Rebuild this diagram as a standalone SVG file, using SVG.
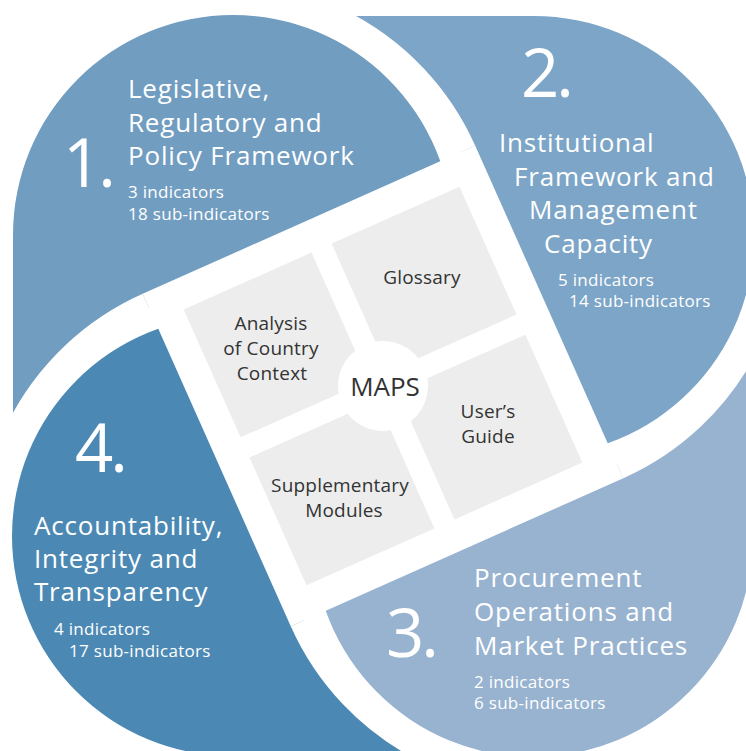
<svg xmlns="http://www.w3.org/2000/svg" xmlns:xlink="http://www.w3.org/1999/xlink" width="746" height="751" viewBox="0 0 746 751">
  <style>
    text { font-family: "Open Sans", "Noto Sans", "Liberation Sans", sans-serif; }
    .num { fill: #ffffff; font-size: 67px; letter-spacing: -3px; }
    .title { fill: #ffffff; font-size: 26px; letter-spacing: 0.8px; }
    .sub { fill: #ffffff; font-size: 17px; letter-spacing: 0.3px; }
    .tile { fill: #ecedec; }
    .tl { fill: #333333; font-size: 19px; letter-spacing: 0.2px; text-anchor: middle; }
    .hub-label { fill: #333333; font-size: 26px; text-anchor: middle; }
    .arm { fill: none; stroke: #ffffff; stroke-width: 30; }
    .p1 { fill: #719dc1; }
    .p2 { fill: #7ca5c7; }
    .p3 { fill: #98b3d0; }
    .p4 { fill: #4b89b4; }
  </style>
  <defs>
    <!-- outer edge of one pillar: straight side plus a 220 radius corner, in hub-centred coordinates -->
    <clipPath id="pillar-edge">
      <path d="M-370,900 L-370,-151 A220,220 0 0 1 -150,-371 A220,220 0 0 1 70,-151 L900,-151 L900,900 Z"/>
    </clipPath>
    <!-- one pillar, bounded by the centre lines of its two white separator arcs (frame rotated -24deg) -->
    <path id="sector" d="M167,-182 L-182,-182 L-182,-167 A262,262 0 0 0 -421.4,-11.6 L-1152.2,-337 L-608.2,-1584.2 L341.1,-1161.6 L11.6,-421.4 A262,262 0 0 1 167,-182 Z"/>
    <!-- one white separator arc -->
    <path id="arm" d="M167,-182 A262,262 0 0 0 -49.5,-440"/>
  </defs>

  <rect width="746" height="751" fill="#ffffff"/>

  <!-- pillar 1 -->
  <g id="pillar-1">
    <g transform="translate(383,386)">
      <g clip-path="url(#pillar-edge)">
        <use xlink:href="#sector" class="p1" transform="rotate(-24)"/>
      </g>
    </g>
    <text class="num" x="63" y="187">1.</text>
    <text class="title" x="128" y="98">Legislative,</text>
    <text class="title" x="128" y="132">Regulatory and</text>
    <text class="title" x="128" y="165">Policy Framework</text>
    <text class="sub" x="128" y="198">3 indicators</text>
    <text class="sub" x="128" y="220">18 sub-indicators</text>
  </g>

  <!-- pillar 2 -->
  <g id="pillar-2">
    <g transform="translate(383,386) rotate(90)">
      <g clip-path="url(#pillar-edge)">
        <use xlink:href="#sector" class="p2" transform="rotate(-24)"/>
      </g>
    </g>
    <text class="num" x="521" y="97">2.</text>
    <text class="title" x="499" y="152">Institutional</text>
    <text class="title" x="514" y="186">Framework and</text>
    <text class="title" x="529" y="219">Management</text>
    <text class="title" x="544" y="253">Capacity</text>
    <text class="sub" x="558" y="286">5 indicators</text>
    <text class="sub" x="569" y="307">14 sub-indicators</text>
  </g>

  <!-- pillar 3 -->
  <g id="pillar-3">
    <g transform="translate(383,386) rotate(180)">
      <g clip-path="url(#pillar-edge)">
        <use xlink:href="#sector" class="p3" transform="rotate(-24)"/>
      </g>
    </g>
    <text class="num" x="386" y="657">3.</text>
    <text class="title" x="474" y="587">Procurement</text>
    <text class="title" x="474" y="621">Operations and</text>
    <text class="title" x="474" y="655">Market Practices</text>
    <text class="sub" x="474" y="688">2 indicators</text>
    <text class="sub" x="474" y="709">6 sub-indicators</text>
  </g>

  <!-- pillar 4 -->
  <g id="pillar-4">
    <g transform="translate(383,386) rotate(270)">
      <g clip-path="url(#pillar-edge)">
        <use xlink:href="#sector" class="p4" transform="rotate(-24)"/>
      </g>
    </g>
    <text class="num" x="75" y="472">4.</text>
    <text class="title" x="34" y="535">Accountability,</text>
    <text class="title" x="34" y="568">Integrity and</text>
    <text class="title" x="34" y="601">Transparency</text>
    <text class="sub" x="54" y="635">4 indicators</text>
    <text class="sub" x="69" y="657">17 sub-indicators</text>
  </g>

  <!-- white separators between the pillars -->
  <g id="separators" transform="translate(383,386) rotate(-24)">
    <use xlink:href="#arm" class="arm"/>
    <use xlink:href="#arm" class="arm" transform="rotate(90)"/>
    <use xlink:href="#arm" class="arm" transform="rotate(180)"/>
    <use xlink:href="#arm" class="arm" transform="rotate(270)"/>
  </g>

  <!-- central tool tiles -->
  <g id="tile-analysis">
    <rect class="tile" x="-151" y="-151" width="140" height="140" transform="translate(383,386) rotate(-24)"/>
    <text class="tl" x="271" y="330">Analysis</text>
    <text class="tl" x="271" y="355">of Country</text>
    <text class="tl" x="272" y="380">Context</text>
  </g>
  <g id="tile-glossary">
    <rect class="tile" x="11" y="-151" width="140" height="140" transform="translate(383,386) rotate(-24)"/>
    <text class="tl" x="422" y="284">Glossary</text>
  </g>
  <g id="tile-guide">
    <rect class="tile" x="11" y="11" width="140" height="140" transform="translate(383,386) rotate(-24)"/>
    <text class="tl" x="488" y="418">User’s</text>
    <text class="tl" x="488" y="443">Guide</text>
  </g>
  <g id="tile-modules">
    <rect class="tile" x="-151" y="11" width="140" height="140" transform="translate(383,386) rotate(-24)"/>
    <text class="tl" x="340" y="492">Supplementary</text>
    <text class="tl" x="344" y="517">Modules</text>
  </g>
  <g id="hub">
    <circle cx="383" cy="386" r="45" fill="#ffffff"/>
    <text class="hub-label" x="385" y="396">MAPS</text>
  </g>
</svg>
